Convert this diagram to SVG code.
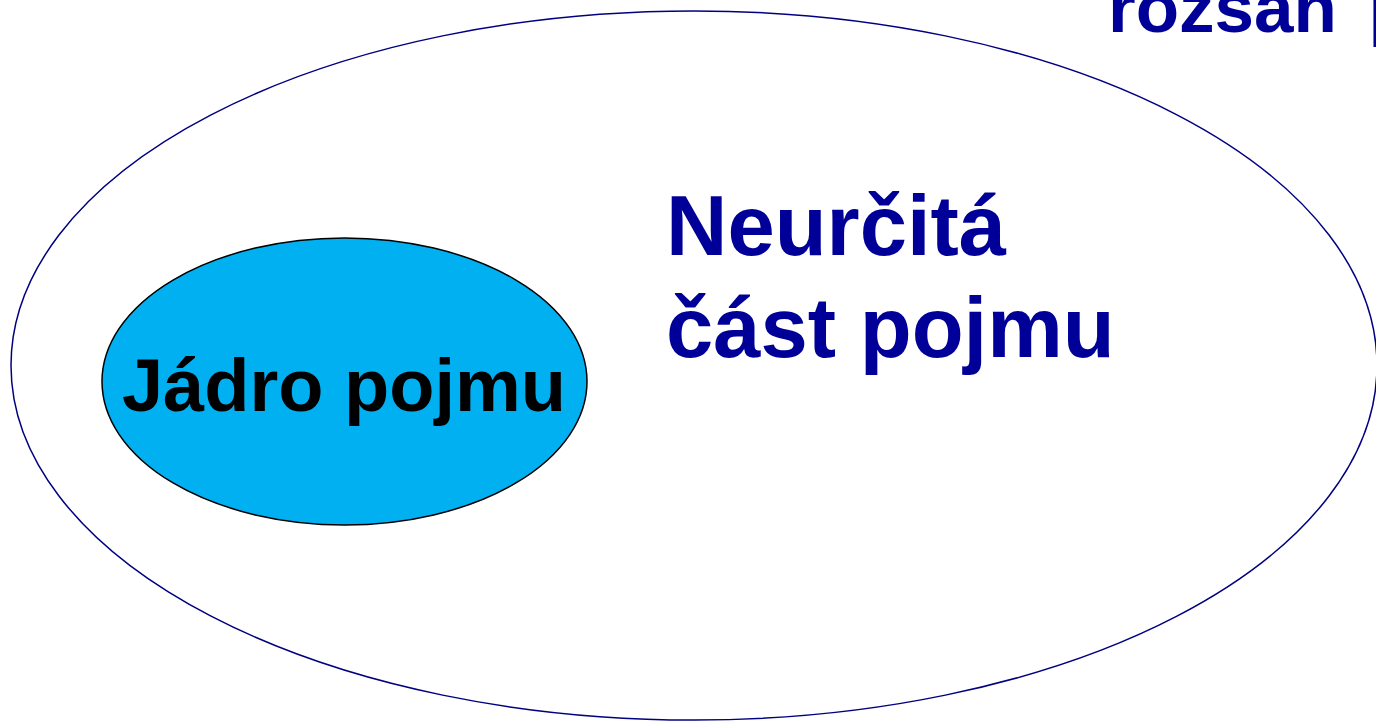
<svg xmlns="http://www.w3.org/2000/svg" width="1376" height="721" viewBox="0 0 1376 721">
<style>
.t{font-family:"Liberation Sans",Arial,sans-serif;font-weight:bold}
.blue{fill:#000099}
</style>
<rect width="1376" height="721" fill="#ffffff"/>
<g id="outer">
<ellipse cx="694" cy="365.5" rx="683" ry="354.5" fill="none" stroke="#000080" stroke-width="1.5"/>
</g>
<g id="title">
<text class="t blue" x="1108" y="32" font-size="71" word-spacing="12">rozsah pojmu</text>
</g>
<g id="core">
<ellipse cx="344.5" cy="381.5" rx="242.5" ry="143.5" fill="#00B0F0" stroke="#000000" stroke-width="1.5"/>
<text class="t" x="344" y="411" font-size="74" text-anchor="middle" fill="#000000">Jádro pojmu</text>
</g>
<g id="vague">
<text class="t blue" x="666" y="255" font-size="85">Neurčitá</text>
<text class="t blue" x="666" y="357" font-size="85">část pojmu</text>
</g>
<g id="connectors"></g>
</svg>
